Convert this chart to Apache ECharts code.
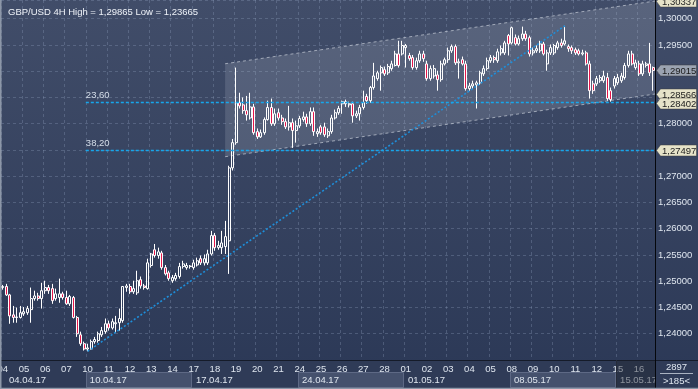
<!DOCTYPE html>
<html>
<head>
<meta charset="utf-8">
<script src="https://cdn.jsdelivr.net/npm/echarts@6/dist/echarts.min.js"></script>
<style>
html,body{margin:0;padding:0;background:#2c3957;overflow:hidden;}
#c{width:698px;height:389px;}
</style>
</head>
<body>
<div id="c"></div>
<script>
// ---- data ----
const title = 'GBP/USD 4H High = 1,29865 Low = 1,23665';
const days = ['04','05','06','07','10','11','12','13','14','17','18','19','20','21','24','25','26','27','28','01','02','03','04','05','08','09','10','11','12','15','16'];
const weekLabels = ['04.04.17','10.04.17','17.04.17','24.04.17','01.05.17','08.05.17','15.05.17'];
const weekStartDay = [0,4,9,14,19,24,29];
const barsPerDay = 6;

const open = [
1.2488,1.2490,1.2474,1.2436,1.2431,1.2431,1.2438,1.2440,1.2446,1.2467,
1.2472,1.2467,1.2482,1.2488,1.2486,1.2467,1.2469,1.2476,1.2469,1.2457,
1.2469,1.2431,1.2398,1.2381,1.2371,1.2371,1.2385,1.2387,1.2398,1.2404,
1.2419,1.2411,1.2419,1.2421,1.2425,1.2488,1.2490,1.2480,1.2478,1.2503,
1.2491,1.2486,1.2530,1.2560,1.2549,1.2554,1.2526,1.2516,1.2501,1.2505,
1.2509,1.2528,1.2526,1.2528,1.2526,1.2531,1.2543,1.2535,1.2535,1.2552,
1.2587,1.2564,1.2564,1.2566,1.2577,1.2716,1.2764,1.2840,1.2836,1.2825,
1.2811,1.2832,1.2785,1.2775,1.2783,1.2808,1.2831,1.2800,1.2821,1.2811,
1.2804,1.2794,1.2802,1.2787,1.2796,1.2808,1.2813,1.2800,1.2823,1.2781,
1.2794,1.2794,1.2777,1.2785,1.2811,1.2821,1.2838,1.2838,1.2836,1.2838,
1.2815,1.2819,1.2831,1.2852,1.2844,1.2869,1.2886,1.2897,1.2903,1.2897,
1.2905,1.2911,1.2933,1.2933,1.2945,1.2930,1.2926,1.2907,1.2920,1.2933,
1.2914,1.2886,1.2891,1.2893,1.2884,1.2914,1.2922,1.2939,1.2947,1.2916,
1.2922,1.2914,1.2867,1.2872,1.2874,1.2878,1.2895,1.2905,1.2920,1.2926,
1.2920,1.2935,1.2935,1.2968,1.2954,1.2964,1.2952,1.2962,1.2971,1.2964,
1.2935,1.2939,1.2939,1.2952,1.2914,1.2935,1.2935,1.2945,1.2954,1.2952,
1.2947,1.2945,1.2941,1.2939,1.2933,1.2935,1.2914,1.2876,1.2876,1.2882,
1.2882,1.2888,1.2863,1.2872,1.2878,1.2882,1.2888,1.2911,1.2933,1.2907,
1.2914,1.2895,1.2911,1.2914,1.2907];
const close = [
1.2490,1.2474,1.2434,1.2431,1.2432,1.2440,1.2442,1.2448,1.2467,1.2472,
1.2467,1.2482,1.2488,1.2482,1.2463,1.2476,1.2476,1.2469,1.2457,1.2471,
1.2431,1.2400,1.2381,1.2371,1.2373,1.2385,1.2389,1.2400,1.2406,1.2419,
1.2411,1.2423,1.2421,1.2429,1.2490,1.2491,1.2480,1.2486,1.2501,1.2491,
1.2488,1.2535,1.2552,1.2549,1.2556,1.2526,1.2514,1.2505,1.2507,1.2511,
1.2528,1.2533,1.2530,1.2529,1.2535,1.2539,1.2535,1.2543,1.2552,1.2587,
1.2564,1.2568,1.2573,1.2585,1.2716,1.2764,1.2840,1.2834,1.2825,1.2817,
1.2832,1.2783,1.2775,1.2783,1.2808,1.2831,1.2800,1.2819,1.2811,1.2804,
1.2794,1.2802,1.2787,1.2796,1.2810,1.2813,1.2800,1.2823,1.2785,1.2785,
1.2783,1.2779,1.2785,1.2811,1.2821,1.2829,1.2842,1.2842,1.2838,1.2815,
1.2819,1.2831,1.2840,1.2844,1.2869,1.2891,1.2897,1.2907,1.2895,1.2909,
1.2914,1.2933,1.2911,1.2949,1.2949,1.2924,1.2907,1.2920,1.2933,1.2924,
1.2886,1.2905,1.2905,1.2884,1.2914,1.2922,1.2939,1.2947,1.2916,1.2918,
1.2914,1.2867,1.2872,1.2876,1.2878,1.2897,1.2905,1.2920,1.2926,1.2922,
1.2937,1.2943,1.2954,1.2952,1.2983,1.2952,1.2962,1.2971,1.2962,1.2933,
1.2939,1.2943,1.2952,1.2933,1.2935,1.2945,1.2949,1.2954,1.2949,1.2958,
1.2943,1.2939,1.2935,1.2933,1.2935,1.2914,1.2863,1.2863,1.2886,1.2888,
1.2891,1.2848,1.2846,1.2886,1.2888,1.2891,1.2911,1.2933,1.2914,1.2916,
1.2895,1.2914,1.2914,1.2897,1.29015];
const low = [
1.2484,1.2472,1.2419,1.2421,1.2421,1.2429,1.2434,1.2436,1.2421,1.2463,
1.2463,1.2448,1.2476,1.2476,1.2457,1.2463,1.2459,1.2465,1.2455,1.2453,
1.2429,1.2394,1.2377,1.2368,1.23665,1.2370,1.2381,1.2383,1.2394,1.2400,
1.2406,1.2408,1.2402,1.2406,1.2421,1.2480,1.2476,1.2476,1.2474,1.2486,
1.2484,1.2484,1.2526,1.2545,1.2543,1.2522,1.2511,1.2501,1.2497,1.2501,
1.2505,1.2524,1.2522,1.2524,1.2522,1.2528,1.2531,1.2530,1.2531,1.2549,
1.2558,1.2560,1.2552,1.2552,1.2514,1.2711,1.2760,1.2829,1.2819,1.2806,
1.2808,1.2779,1.2771,1.2773,1.2779,1.2806,1.2796,1.2796,1.2806,1.2798,
1.2790,1.2787,1.2754,1.2764,1.2792,1.2804,1.2794,1.2796,1.2777,1.2775,
1.2779,1.2775,1.2773,1.2781,1.2808,1.2817,1.2819,1.2832,1.2831,1.2802,
1.2811,1.2806,1.2827,1.2838,1.2840,1.2865,1.2882,1.2863,1.2891,1.2893,
1.2901,1.2909,1.2907,1.2930,1.2907,1.2920,1.2903,1.2903,1.2916,1.2918,
1.2882,1.2882,1.2886,1.2863,1.2880,1.2911,1.2916,1.2935,1.2912,1.2886,
1.2911,1.2863,1.2863,1.2867,1.2829,1.2874,1.2891,1.2901,1.2916,1.2916,
1.2916,1.2930,1.2931,1.2930,1.2951,1.2949,1.2949,1.2958,1.2958,1.2928,
1.2930,1.2935,1.2935,1.2930,1.2901,1.2931,1.2931,1.2941,1.2945,1.2949,
1.2937,1.2933,1.2931,1.2930,1.2930,1.2911,1.2848,1.2857,1.2872,1.2878,
1.2878,1.2844,1.2842,1.2867,1.2874,1.2878,1.2884,1.2907,1.2911,1.2903,
1.2891,1.2891,1.2907,1.2891,1.2863];
const high = [
1.2493,1.2495,1.2476,1.2453,1.2450,1.2453,1.2451,1.2453,1.2488,1.2482,
1.2478,1.2497,1.2501,1.2493,1.2495,1.2486,1.2505,1.2480,1.2482,1.2474,
1.2472,1.2434,1.2404,1.2385,1.2381,1.2389,1.2394,1.2404,1.2413,1.2429,
1.2425,1.2429,1.2434,1.2448,1.2491,1.2495,1.2495,1.2501,1.2520,1.2509,
1.2495,1.2543,1.2554,1.2571,1.2564,1.2558,1.2531,1.2520,1.2512,1.2516,
1.2535,1.2539,1.2535,1.2531,1.2541,1.2545,1.2549,1.2551,1.2560,1.2596,
1.2592,1.2577,1.2596,1.2615,1.2720,1.2771,1.2907,1.2859,1.2850,1.2853,
1.2859,1.2838,1.2791,1.2789,1.2812,1.2844,1.2848,1.2829,1.2829,1.2817,
1.2810,1.2834,1.2810,1.2806,1.2815,1.2823,1.2819,1.2831,1.2831,1.2791,
1.2798,1.2802,1.2791,1.2817,1.2827,1.2834,1.2844,1.2846,1.2842,1.2842,
1.2825,1.2836,1.2863,1.2857,1.2872,1.2916,1.2901,1.2911,1.2909,1.2914,
1.2920,1.2939,1.2958,1.2958,1.2952,1.2935,1.2931,1.2926,1.2939,1.2939,
1.2920,1.2911,1.2912,1.2901,1.2920,1.2926,1.2945,1.2951,1.2951,1.2924,
1.2928,1.2920,1.2878,1.2882,1.2882,1.2901,1.2911,1.2926,1.2931,1.2930,
1.2943,1.2949,1.2958,1.2971,1.2985,1.2970,1.2968,1.2985,1.2977,1.2968,
1.2945,1.2949,1.2958,1.2956,1.2941,1.2951,1.2952,1.2958,1.2962,1.29865,
1.2951,1.2949,1.2945,1.2943,1.2941,1.2939,1.2920,1.2882,1.2891,1.2893,
1.2901,1.2897,1.2869,1.2891,1.2895,1.2897,1.2916,1.2939,1.2939,1.2922,
1.2920,1.2920,1.2918,1.2954,1.2909];

// Fibonacci retracement (low -> high) and its levels
const fibLow = 1.23665, fibHigh = 1.29865;
const fibLowBar = 24, fibHighBar = 159;
const fibLevels = [23.6, 38.2];
// price channel
const channelBars = [62.9, 184.5];
const channelLower = [1.27372, 1.28566];
const channelUpper = [1.29143, 1.30337];
const lastPrice = 1.29015;
const barCountText = '2897';
const visibleText = '>185<';

// axis range
const yMin = 1.235, yMax = 1.303571, yStep = 0.005;

// ---- chart ----
const FONT = '"Liberation Sans", Arial, sans-serif';
const W = 698, H = 389;
const fmt = v => v.toFixed(5).replace('.', ',');
const n = open.length;
const cats = open.map((_, i) => String(i));
const candles = open.map((o, i) => [o, close[i], low[i], high[i]]);
const fibValue = p => fibHigh - p / 100 * (fibHigh - fibLow);

const chart = echarts.init(document.getElementById('c'), null, {renderer: 'canvas', width: W, height: H});

const option = {
  animation: false,
  backgroundColor: {type: 'linear', x: 0, y: 0, x2: 0, y2: 1,
    colorStops: [{offset: 0, color: '#414d69'}, {offset: 1, color: '#2b3856'}]},
  title: {text: title, left: 3, top: 2,
    textStyle: {fontSize: 9.5, color: '#eef2f8', fontWeight: 'normal', fontFamily: FONT}},
  grid: {left: 1, right: 43, top: 0, bottom: 29, containLabel: false, outerBoundsMode: 'none'},
  xAxis: [{
    type: 'category', data: cats, boundaryGap: true,
    axisLine: {show: true, lineStyle: {color: '#151b29', width: 1}},
    axisTick: {show: false},
    axisLabel: {interval: i => i % barsPerDay === 0, formatter: (v, i) => days[i / barsPerDay] || '',
      color: '#dfe6ef', fontSize: 9.5, fontFamily: FONT, margin: 4},
    splitLine: {show: true, interval: i => i % barsPerDay === 0,
      lineStyle: {color: 'rgba(150,165,195,0.30)', width: 1, type: [3, 3]}}
  }, {
    type: 'value', min: -0.5, max: n - 0.5, show: false
  }],
  yAxis: {
    type: 'value', position: 'right', min: yMin, max: yMax, interval: yStep,
    axisLine: {show: false}, axisTick: {show: false},
    axisLabel: {margin: 3, color: '#dfe6ef', fontSize: 9.5, fontFamily: FONT,
      formatter: v => {
        const k = v / yStep;
        if (Math.abs(k - Math.round(k)) > 1e-6 || v <= yMin + 1e-9) return '';
        return fmt(v);
      }},
    splitLine: {show: true, lineStyle: {color: 'rgba(150,165,195,0.30)', width: 1, type: [3, 3]}}
  },
  series: [{
    type: 'custom', xAxisIndex: 1, yAxisIndex: 0, z: 1, silent: true, clip: true,
    data: [[100, 1.29]],
    renderItem: (params, api) => {
      const l0 = api.coord([channelBars[0], channelLower[0]]);
      const l1 = api.coord([channelBars[1], channelLower[1]]);
      const u0 = api.coord([channelBars[0], channelUpper[0]]);
      const u1 = api.coord([channelBars[1], channelUpper[1]]);
      return {type: 'group', children: [
        {type: 'polygon', shape: {points: [l0, l1, u1, u0]}, style: {fill: 'rgba(205,212,226,0.17)'}},
        {type: 'line', shape: {x1: l0[0], y1: l0[1], x2: l1[0], y2: l1[1]},
          style: {stroke: 'rgba(190,196,208,0.75)', lineWidth: 1, lineDash: [3, 3]}},
        {type: 'line', shape: {x1: u0[0], y1: u0[1], x2: u1[0], y2: u1[1]},
          style: {stroke: 'rgba(190,196,208,0.75)', lineWidth: 1, lineDash: [3, 3]}}
      ]};
    }
  }, {
    type: 'candlestick', xAxisIndex: 0, yAxisIndex: 0, z: 2,
    data: candles, barWidth: 2.5,
    itemStyle: {color: 'rgba(0,0,0,0)', color0: '#e5174b', borderColor: '#ffffff',
      borderColor0: '#ffffff', borderColorDoji: '#ffffff', borderWidth: 1}
  }, {
    type: 'line', xAxisIndex: 1, yAxisIndex: 0, z: 3, silent: true,
    data: [[fibLowBar, fibLow], [fibHighBar, fibHigh]],
    showSymbol: false, symbol: 'none',
    lineStyle: {color: '#1e8fda', width: 1.6, type: [2, 2]},
    markLine: {
      silent: true, symbol: ['none', 'none'], animation: false,
      lineStyle: {color: '#16a6ec', width: 1.3, type: [3, 2]},
      label: {show: true, position: 'insideStartTop', distance: [0, 2],
        color: '#d5dee9', fontSize: 9.5, fontFamily: FONT},
      data: fibLevels.map(p => [
        {coord: [fibLowBar - 0.5, fibValue(p)], label: {formatter: p.toFixed(2).replace('.', ',')}},
        {coord: [n - 0.5, fibValue(p)]}
      ])
    }
  }]
};
chart.setOption(option);

// ---- decorations placed through the axes' own scales ----
const X = v => chart.convertToPixel({xAxisIndex: 1}, v);
const Y = v => chart.convertToPixel({yAxisIndex: 0}, v);
const plotR = X(n - 0.5), plotB = Y(yMin);
const g = [];
// x-axis strip
g.push({type: 'rect', z: -1, silent: true, shape: {x: 0, y: plotB, width: plotR, height: H - plotB},
  style: {fill: '#2f3b57'}});
const rowTop = plotB + 12.5, rowBot = H - 1.5;
weekStartDay.forEach((d, w) => {
  const x0 = w === 0 ? 0 : X(d * barsPerDay - 0.5);
  const x1 = w + 1 < weekStartDay.length ? X(weekStartDay[w + 1] * barsPerDay - 0.5) : plotR;
  if (w % 2 === 1) {
    g.push({type: 'rect', z: -1, silent: true,
      shape: {x: Math.round(x0) + 0.5, y: rowTop, width: Math.round(x1 - x0) - 1, height: rowBot - rowTop},
      style: {fill: '#45516d', stroke: '#5e6985', lineWidth: 1}});
  }
  g.push({type: 'text', z: 5, silent: true,
    style: {x: x0 + (w === 0 ? 9 : 4), y: (rowTop + rowBot) / 2 + 0.5, text: weekLabels[w],
      fill: '#dfe6ef', font: '9.5px ' + FONT, textVerticalAlign: 'middle', verticalAlign: 'middle'}});
});
// current week shading
const cw = X(weekStartDay[weekStartDay.length - 1] * barsPerDay - 0.5);
g.push({type: 'rect', z: 6, silent: true, shape: {x: cw, y: plotB + 0.5, width: plotR - cw, height: H - plotB},
  style: {fill: 'rgba(35,40,52,0.45)'}});
g.push({type: 'line', z: 6, silent: true, shape: {x1: Math.round(cw) + 0.5, y1: plotB, x2: Math.round(cw) + 0.5, y2: H},
  style: {stroke: '#262c3a', lineWidth: 1}});
// right panel pieces
g.push({type: 'rect', z: 7, silent: true, shape: {x: plotR, y: plotB, width: W - plotR, height: H - plotB},
  style: {fill: '#2f3b57'}});
g.push({type: 'line', z: 8, silent: true, shape: {x1: plotR, y1: plotB + 0.5, x2: W, y2: plotB + 0.5},
  style: {stroke: '#151b29', lineWidth: 1}});
g.push({type: 'line', z: 8, silent: true, shape: {x1: Math.round(plotR) + 0.5, y1: 0, x2: Math.round(plotR) + 0.5, y2: H},
  style: {stroke: '#05070c', lineWidth: 1}});
const cx = (plotR + W) / 2;
g.push({type: 'text', z: 8, silent: true, style: {x: cx, y: plotB + 7.5, text: barCountText, fill: '#dfe6ef',
  font: '9.5px ' + FONT, textAlign: 'center', align: 'center', textVerticalAlign: 'middle', verticalAlign: 'middle'}});
g.push({type: 'line', z: 8, silent: true, shape: {x1: plotR + 5, y1: plotB + 13.5, x2: W - 5, y2: plotB + 13.5},
  style: {stroke: '#aab3c2', lineWidth: 1}});
g.push({type: 'text', z: 8, silent: true, style: {x: cx, y: plotB + 21, text: visibleText, fill: '#dfe6ef',
  font: '9.5px ' + FONT, textAlign: 'center', align: 'center', textVerticalAlign: 'middle', verticalAlign: 'middle'}});
// price tags on the right axis
const tags = [
  {v: channelUpper[1], fill: '#e6e3c9'},
  {v: lastPrice, fill: '#9ba3b1'},
  {v: channelLower[1], fill: '#e6e3c9'},
  {v: fibValue(fibLevels[0]), fill: '#e6e3c9'},
  {v: fibValue(fibLevels[1]), fill: '#e6e3c9'}
];
tags.forEach(t => {
  const y = Math.round(Y(t.v)) + 0.5, xa = plotR + 1.5, hh = 5.5, bw = 36;
  g.push({type: 'polygon', z: 20, silent: true,
    shape: {points: [[xa, y], [xa + 4, y - hh], [xa + 4 + bw, y - hh], [xa + 4 + bw, y + hh], [xa + 4, y + hh]]},
    style: {fill: t.fill, stroke: 'rgba(60,60,60,0.6)', lineWidth: 0.8}});
  g.push({type: 'text', z: 21, silent: true,
    style: {x: xa + 5.5, y: y + 0.5, text: fmt(t.v), fill: '#1c1c1c', font: '9.5px ' + FONT,
      textVerticalAlign: 'middle', verticalAlign: 'middle'}});
});
// window frame
g.push({type: 'rect', z: 30, silent: true, shape: {x: 0, y: 0, width: 1.5, height: H}, style: {fill: '#8d97a8'}});
g.push({type: 'rect', z: 30, silent: true, shape: {x: 0, y: H - 1.2, width: W, height: 1.2}, style: {fill: '#8d97a8'}});

chart.setOption({graphic: {elements: g}});
</script>
</body>
</html>
